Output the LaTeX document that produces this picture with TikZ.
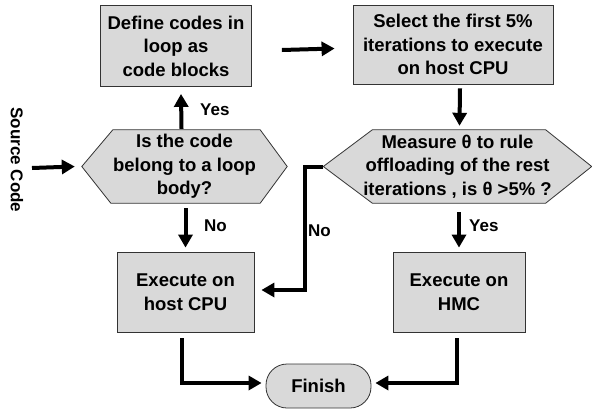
\documentclass[tikz,border=0pt]{standalone}
\usepackage{fontspec}
\setmainfont{Liberation Sans}
\usetikzlibrary{arrows.meta,backgrounds,calc}
\begin{document}
\begin{tikzpicture}[x=1pt,y=-1pt,
  every node/.style={font=\bfseries\fontsize{18.5}{23.5}\selectfont, align=center, inner sep=0pt},
  procbox/.style={draw=black!80, line width=0.8pt, fill=gray!30},
  hexfill/.style={draw=black!80, line width=0.8pt, fill=gray!30},
  flow/.style={line width=4pt, -{Triangle[length=13pt,width=14pt]}},
  lbl/.style={font=\bfseries\fontsize{17}{20}\selectfont}]
\useasboundingbox (0,0) rectangle (592,416);

% boxes
\node[procbox, minimum width=151pt, minimum height=81pt] (b1) at (176,46) {Define codes in\\loop as\\code blocks};
\node[procbox, minimum width=200pt, minimum height=79pt] (b2) at (453,44.5) {Select the first 5\%\\iterations to execute\\on host CPU};
\node[procbox, minimum width=137pt, minimum height=80pt] (b3) at (185.5,292) {Execute on\\host CPU};
\node[procbox, minimum width=132pt, minimum height=80pt] (b4) at (459,292) {Execute on\\HMC};
\node[procbox, rounded corners=21pt, minimum width=105pt, minimum height=44pt] (fin) at (318.5,386) {Finish};

% hexagons
\node[minimum width=205pt, minimum height=73pt] (h1) at (184.5,166.5) {Is the code\\belong to a loop\\body?};
\node[minimum width=268pt, minimum height=73pt] (h2) at (457.5,166.5) {Measure θ to rule\\offloading of the rest\\iterations , is θ >5\% ?};
\begin{scope}[on background layer]
\draw[hexfill] (h1.west) -- ($(h1.north west)+(31,0)$) -- ($(h1.north east)+(-27,0)$) -- (h1.east)
  -- ($(h1.south east)+(-27,0)$) -- ($(h1.south west)+(29,0)$) -- cycle;
\draw[hexfill] (h2.west) -- ($(h2.north west)+(49,0)$) -- ($(h2.north east)+(-46,0)$) -- (h2.east)
  -- ($(h2.south east)+(-46,0)$) -- ($(h2.south west)+(49,0)$) -- cycle;
\end{scope}

% source label
\node[lbl, rotate=-90] (src) at (17,160) {Source Code};
\coordinate (srcA) at (32,168);
\draw[flow] (srcA) -- ($(h1.west)+(-7,0)$);

% connectors
\draw[flow] ($(h1.north)+(-3,-1)$) -- ($(b1.south)+(5,7)$);
\node[lbl, anchor=west] (yes1) at (200,110) {Yes};
\draw[flow] ($(b1.east)+(30,4)$) -- ($(b2.west)+(-18,4)$);
\draw[flow] ($(b2.south)+(7,4)$) -- ($(h2.north)+(2,-4)$);
\draw[flow] ($(h1.south)+(1,5)$) -- ($(b3.north)+(0,-4)$);
\node[lbl, anchor=west] (no1) at (204,226) {No};
\draw[flow] (h2.west) -- (305,166.5) -- (305,290) -- ($(b3.east)+(7,-2)$);
\node[lbl, anchor=west] (no2) at (308,231) {No};
\draw[flow] ($(h2.south)+(1.5,9)$) -- ($(b4.north)+(0,-4)$);
\node[lbl, anchor=west] (yes2) at (469,226) {Yes};
\draw[flow] ($(b3.south)+(-4,6)$) |- ($(fin.west)+(-4,-3)$);
\draw[flow] ($(b4.south)+(-2,6)$) |- ($(fin.east)+(4,-3)$);
\end{tikzpicture}
\end{document}
